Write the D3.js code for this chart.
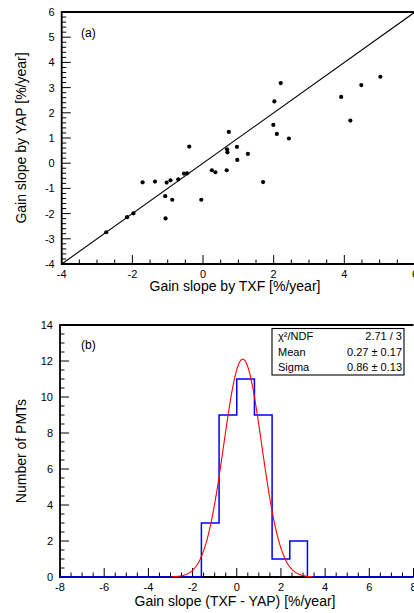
<!DOCTYPE html>
<html><head><meta charset="utf-8">
<script src="https://cdn.jsdelivr.net/npm/d3@7"></script>
<style>
html,body{margin:0;padding:0;background:#fff;}
svg{display:block;font-family:"Liberation Sans",Arial,Helvetica,sans-serif;}
</style></head>
<body>
<svg id="chart" width="414" height="613"></svg>
<script>
// ---- data: panel (a) scatter ----
const txfSlope = [-2.74,-2.15,-1.97,-1.71,-1.36,-1.03,-0.92,-1.07,-0.87,-1.06,-0.70,-0.54,-0.45,-0.39,-0.05,
                  2.20,2.02,0.73,1.99,2.09,2.43,0.68,0.69,0.96,1.27,0.97,0.25,0.35,0.67,1.70,5.02,4.48,3.91,4.17];
const yapSlope = [-2.74,-2.14,-1.99,-0.76,-0.73,-0.77,-0.68,-1.31,-1.45,-2.19,-0.64,-0.41,-0.40,0.66,-1.45,
                  3.18,2.45,1.24,1.52,1.16,0.98,0.55,0.43,0.65,0.37,0.13,-0.28,-0.36,-0.28,-0.75,3.43,3.10,2.63,1.69];
// ---- data: panel (b) histogram ----
const binLowEdges = [-1.6,-0.8,0.0,0.8,1.6,2.4];
const binCounts   = [3,9,11,9,1,2];
const binWidth = 0.8;
const histRange = [-8,8];
const fitConst = 12.1, fitMean = 0.27, fitSigma = 0.86;
const fitRange = [-2.95,3.45];
const statLabels = ["χ²/NDF","Mean","Sigma"];
const statValues = ["2.71 / 3","0.27 ± 0.17","0.86 ± 0.13"];
// ticks
const topXTicks = [-4,-2,0,2,4,6];
const topYTicks = [-4,-3,-2,-1,0,1,2,3,4,5,6];
const botXTicks = [-8,-6,-4,-2,0,2,4,6,8];
const botYTicks = [0,2,4,6,8,10,12,14];

const svg = d3.select("#chart");

function drawFrame(g, x, y, opts){
  const [x0,x1] = x.range(); const [yb,yt] = y.range();
  // minor/major ticks inside
  const xMinor = d3.range(x.domain()[0], x.domain()[1]+1e-9, opts.xMinor);
  const yMinor = d3.range(y.domain()[0], y.domain()[1]+1e-9, opts.yMinor);
  const isMajor = (v, step)=> Math.abs(v/step - Math.round(v/step))<1e-6;
  g.selectAll(".xt").data(xMinor).join("line")
    .attr("x1",d=>x(d)).attr("x2",d=>x(d))
    .attr("y1",yb).attr("y2",d=>yb-(isMajor(d,opts.xMajor)?9:4.5))
    .attr("stroke","#000").attr("stroke-width",1);
  g.selectAll(".yt").data(yMinor).join("line")
    .attr("y1",d=>y(d)).attr("y2",d=>y(d))
    .attr("x1",x0).attr("x2",d=>x0+(isMajor(d,opts.yMajor)?9:4.5))
    .attr("stroke","#000").attr("stroke-width",1);
  // frame lines
  g.append("path").attr("d",`M${x1},${yt}H${x0}V${yb}H${x1}`)
    .attr("fill","none").attr("stroke","#000").attr("stroke-width",1.8);
  // labels
  g.selectAll(".xl").data(opts.xTicks).join("text")
    .attr("x",d=>x(d)).attr("y",yb+13.5).attr("text-anchor","middle")
    .attr("font-size",11).text(d=>d);
  g.selectAll(".yl").data(opts.yTicks).join("text")
    .attr("x",x0-7).attr("y",d=>y(d)+4).attr("text-anchor","end")
    .attr("font-size",11).text(d=>d);
}

// ---------- panel (a) ----------
const xA = d3.scaleLinear().domain([-4,6]).range([61.7,415]);
const yA = d3.scaleLinear().domain([-4,6]).range([264,12]);
const gA = svg.append("g");
// diagonal y=x
gA.append("line").attr("x1",xA(-4)).attr("y1",yA(-4)).attr("x2",xA(6)).attr("y2",yA(6))
  .attr("stroke","#000").attr("stroke-width",1.1);
gA.selectAll("circle").data(txfSlope.map((v,i)=>[v,yapSlope[i]])).join("circle")
  .attr("cx",d=>xA(d[0])).attr("cy",d=>yA(d[1])).attr("r",2.1).attr("fill","#000");
drawFrame(gA,xA,yA,{xMinor:0.5,xMajor:2,yMinor:0.2,yMajor:1,xTicks:topXTicks,yTicks:topYTicks});
gA.append("text").attr("x",81).attr("y",37).attr("font-size",12).text("(a)");
gA.append("text").attr("x",235).attr("y",291).attr("text-anchor","middle").attr("font-size",14)
  .text("Gain slope by TXF [%/year]");
gA.append("text").attr("transform","translate(26,138) rotate(-90)").attr("text-anchor","middle")
  .attr("font-size",14).text("Gain slope by YAP [%/year]");

// ---------- panel (b) ----------
const xB = d3.scaleLinear().domain(histRange).range([60,413.5]);
const yB = d3.scaleLinear().domain([0,14]).range([577,325]);
const gB = svg.append("g");
drawFrame(gB,xB,yB,{xMinor:0.5,xMajor:2,yMinor:0.5,yMajor:2,xTicks:botXTicks,yTicks:botYTicks});
// histogram step outline
const pts = [[histRange[0],0]];
binLowEdges.forEach((e,i)=>{
  const prev = i===0?0:binCounts[i-1];
  pts.push([e,prev]); pts.push([e,binCounts[i]]);
});
const lastEdge = binLowEdges[binLowEdges.length-1]+binWidth;
pts.push([lastEdge,binCounts[binCounts.length-1]]); pts.push([lastEdge,0]); pts.push([histRange[1],0]);
gB.append("path").attr("d",d3.line().x(d=>xB(d[0])).y(d=>yB(d[1]))(pts))
  .attr("fill","none").attr("stroke","#0000ff").attr("stroke-width",1.5);
// gaussian fit curve
const gx = d3.range(fitRange[0],fitRange[1]+1e-9,0.02);
gB.append("path").attr("d",d3.line().x(d=>xB(d)).y(d=>yB(fitConst*Math.exp(-0.5*((d-fitMean)/fitSigma)**2))).curve(d3.curveLinear)(gx))
  .attr("fill","none").attr("stroke","#ff0000").attr("stroke-width",1.1);
// stats box
gB.append("rect").attr("x",272).attr("y",328.5).attr("width",132).attr("height",46.5)
  .attr("fill","#fff").attr("stroke","#000").attr("stroke-width",1.1);
const rowY = [340,355.5,371];
gB.selectAll(".sl").data(statLabels).join("text").attr("x",278).attr("y",(d,i)=>rowY[i])
  .attr("font-size",11).text(d=>d);
gB.selectAll(".sv").data(statValues).join("text").attr("x",402).attr("y",(d,i)=>rowY[i])
  .attr("text-anchor","end").attr("font-size",11).text(d=>d);
gB.append("text").attr("x",81).attr("y",349).attr("font-size",12).text("(b)");
gB.append("text").attr("x",235).attr("y",606).attr("text-anchor","middle").attr("font-size",14)
  .text("Gain slope (TXF - YAP) [%/year]");
gB.append("text").attr("transform","translate(26,451) rotate(-90)").attr("text-anchor","middle")
  .attr("font-size",14).text("Number of PMTs");
</script>
</body></html>
